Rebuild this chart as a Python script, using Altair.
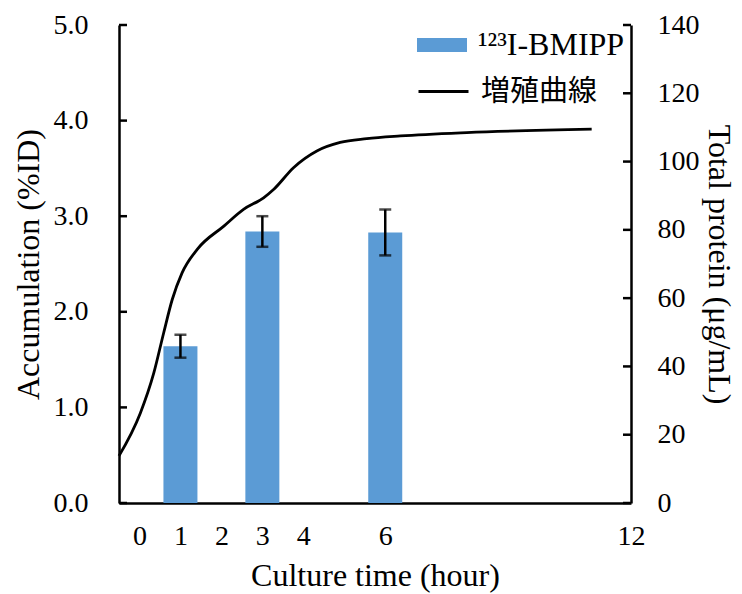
import altair as alt
import pandas as pd

# ---- data ----
bar_hours = [1, 3, 6]
bar_values = [1.64, 2.84, 2.83]
bar_errors = [0.12, 0.16, 0.24]

curve_hours = [-0.5, 0.02, 0.35, 0.59, 0.80, 1.04, 1.41, 2.06, 2.54, 3.03,
               3.28, 3.76, 4.33, 4.90, 5.55, 6.37, 7.99, 11.04]
curve_protein = [13.8, 26.3, 38.1, 49.8, 59.6, 67.4, 74.3, 81.1, 86.0, 89.4,
                 91.9, 98.2, 103.1, 105.6, 106.7, 107.5, 108.5, 109.5]

x_tick_labels = [0, 1, 2, 3, 4, 6, 12]
left_ticks = [0.0, 1.0, 2.0, 3.0, 4.0, 5.0]
right_ticks = [0, 20, 40, 60, 80, 100, 120, 140]

bar_label = "\u00b9\u00b2\u00b3I-BMIPP"
line_label = "増殖曲線"

W, H = 512, 478
SERIF = "Liberation Serif"
CJK = "Noto Sans CJK JP"
TICK_FS = 28
TITLE_FS = 32

bars_df = pd.DataFrame({
    "hour": bar_hours,
    "value": bar_values,
    "lo": [v - e for v, e in zip(bar_values, bar_errors)],
    "hi": [v + e for v, e in zip(bar_values, bar_errors)],
    "series": [bar_label] * len(bar_hours),
})
curve_df = pd.DataFrame({"hour": curve_hours, "protein": curve_protein,
                         "series": [line_label] * len(curve_hours)})
lt_df = pd.DataFrame({"v": left_ticks})
rt_df = pd.DataFrame({"v": right_ticks})

xscale = alt.Scale(domain=[-0.5, 12], nice=False, zero=False, padding=0)
yl_scale = alt.Scale(domain=[0, 5], nice=False, padding=0)
yr_scale = alt.Scale(domain=[0, 140], nice=False, padding=0)

x_axis = alt.Axis(values=x_tick_labels, ticks=False, tickSize=0, grid=False,
                  labelFont=SERIF, labelFontSize=TICK_FS, labelPadding=19,
                  labelColor="black", domainColor="black", domainWidth=2.5,
                  title="Culture time (hour)", titleFont=SERIF, titleFontSize=TITLE_FS,
                  titleFontWeight="normal", titleColor="black", titlePadding=10,
                  labelFlush=False)

yl_axis = alt.Axis(orient="left", values=left_ticks, format=".1f", ticks=False,
                   tickSize=0, grid=False, labelFont=SERIF, labelFontSize=TICK_FS,
                   labelPadding=31, labelColor="black", domainColor="black",
                   domainWidth=2.5, title="Accumulation (%ID)", titleFont=SERIF,
                   titleFontSize=TITLE_FS, titleFontWeight="normal", titleColor="black",
                   titleAngle=-90, titleX=-81, titleY=H / 2, titleAlign="center",
                   titleBaseline="alphabetic", labelFlush=False)

yr_axis = alt.Axis(orient="right", values=right_ticks, ticks=False, tickSize=0,
                   grid=False, labelFont=SERIF, labelFontSize=TICK_FS, labelPadding=26,
                   labelColor="black", domainColor="black", domainWidth=2.5,
                   title="Total protein (μg/mL)", titleFont=SERIF, titleFontSize=TITLE_FS,
                   titleFontWeight="normal", titleColor="black", titleAngle=90,
                   titleX=77, titleY=H / 2, titleAlign="center",
                   titleBaseline="alphabetic", labelFlush=False)

bars = alt.Chart(bars_df).mark_bar(size=34).encode(
    x=alt.X("hour:Q", scale=xscale, axis=x_axis),
    y=alt.Y("value:Q", scale=yl_scale, axis=yl_axis),
    fill=alt.Fill("series:N", scale=alt.Scale(domain=[bar_label], range=["#5B9BD5"]),
                  legend=alt.Legend(orient="none", legendX=298, legendY=-5, title=None,
                                    padding=0, symbolType="M-1,-0.28L1,-0.28L1,0.28L-1,0.28Z",
                                    symbolSize=2500, symbolStrokeWidth=0,
                                    labelFont=SERIF, labelFontSize=32, labelColor="black",
                                    labelOffset=11)),
)

errs = alt.Chart(bars_df).mark_errorbar(ticks=alt.MarkConfig(size=12, color="black", strokeWidth=2.5),
                                        color="black", thickness=2.5).encode(
    x=alt.X("hour:Q", scale=xscale, axis=x_axis),
    y=alt.Y("lo:Q", scale=yl_scale, axis=yl_axis),
    y2="hi:Q",
)

left_tick_marks = alt.Chart(lt_df).mark_rule(color="black", strokeWidth=2.5).encode(
    y=alt.Y("v:Q", scale=yl_scale, axis=yl_axis),
    x=alt.value(0), x2=alt.value(8),
)

left_layer = alt.layer(bars, errs, left_tick_marks)

line = alt.Chart(curve_df).mark_line(interpolate="monotone", strokeWidth=2.8).encode(
    x=alt.X("hour:Q", scale=xscale, axis=x_axis),
    y=alt.Y("protein:Q", scale=yr_scale, axis=yr_axis),
    stroke=alt.Stroke("series:N", scale=alt.Scale(domain=[line_label], range=["black"]),
                      legend=alt.Legend(orient="none", legendX=298, legendY=40, title=None,
                                        padding=0, symbolType="stroke", symbolSize=2500,
                                        symbolStrokeWidth=2.8, labelFont=CJK,
                                        labelFontSize=29, labelColor="black",
                                        labelOffset=11)),
)

right_tick_marks = alt.Chart(rt_df).mark_rule(color="black", strokeWidth=2.5).encode(
    y=alt.Y("v:Q", scale=yr_scale, axis=yr_axis),
    x=alt.value(W - 8), x2=alt.value(W),
)

right_layer = alt.layer(right_tick_marks, line)

chart = alt.layer(left_layer, right_layer).resolve_scale(
    y="independent", fill="independent", stroke="independent"
).properties(
    width=W, height=H,
    autosize=alt.AutoSizeParams(type="none"),
    padding={"left": 119, "top": 25, "right": 111, "bottom": 91},
    background="white",
).configure_view(stroke=None).configure_axis(grid=False)

chart.save("out.html", embed_options={"renderer": "svg", "actions": False})
